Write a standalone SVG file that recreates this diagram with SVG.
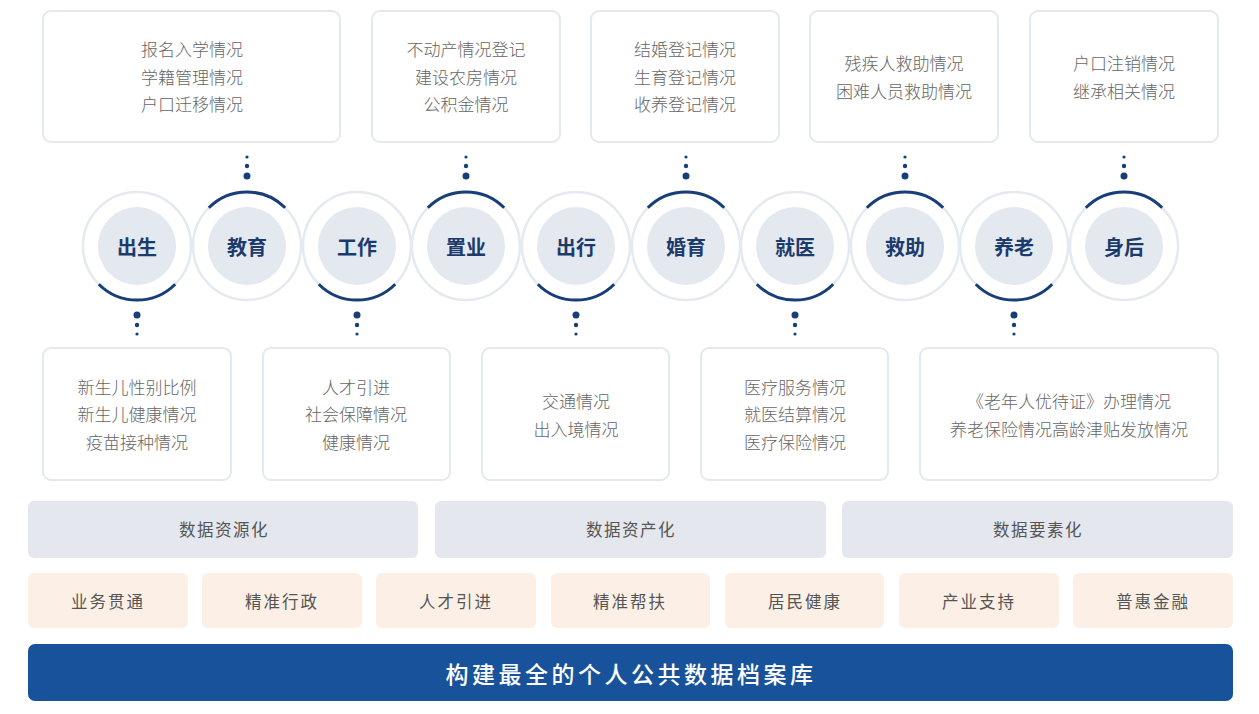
<svg xmlns="http://www.w3.org/2000/svg" width="1259" height="714" viewBox="0 0 1259 714">
<style>
text{font-family:"Noto Sans CJK SC","Noto Sans",sans-serif;dominant-baseline:central;text-anchor:middle}
.box{fill:#fff;stroke:#e4e8ef;stroke-width:2}
.bt{font-size:17px;fill:#666;font-weight:300}
.ring{fill:#fff;stroke:#e5e9f0;stroke-width:2.5}
.core{fill:#e4e9f0}
.arc{fill:none;stroke:#173e78;stroke-width:3}
.lbl{font-size:20px;font-weight:700;fill:#1c3b6c}
.dot{fill:#173e78}
.data{fill:#e4e8ee}
.dt{font-size:16.5px;fill:#555;letter-spacing:1.5px}
.app{fill:#fcf0e6}
.at{font-size:16.5px;fill:#555;letter-spacing:2px}
</style>
<rect width="1259" height="714" fill="#fff"/>

<g id="top-box-1"><rect class="box" x="43" y="11" width="297" height="131" rx="8"/>
<text class="bt" x="192" y="48">报名入学情况</text><text class="bt" x="192" y="76">学籍管理情况</text><text class="bt" x="192" y="103">户口迁移情况</text></g>
<g id="top-box-2"><rect class="box" x="372" y="11" width="188" height="131" rx="8"/>
<text class="bt" x="466" y="48">不动产情况登记</text><text class="bt" x="466" y="76">建设农房情况</text><text class="bt" x="466" y="103">公积金情况</text></g>
<g id="top-box-3"><rect class="box" x="591" y="11" width="188" height="131" rx="8"/>
<text class="bt" x="685" y="48">结婚登记情况</text><text class="bt" x="685" y="76">生育登记情况</text><text class="bt" x="685" y="103">收养登记情况</text></g>
<g id="top-box-4"><rect class="box" x="810" y="11" width="188" height="131" rx="8"/>
<text class="bt" x="904" y="62">残疾人救助情况</text><text class="bt" x="904" y="90">困难人员救助情况</text></g>
<g id="top-box-5"><rect class="box" x="1030" y="11" width="188" height="131" rx="8"/>
<text class="bt" x="1124" y="62">户口注销情况</text><text class="bt" x="1124" y="90">继承相关情况</text></g>

<g id="connectors">
<circle class="dot" cx="247" cy="157" r="1.6"/><circle class="dot" cx="247" cy="166" r="2.2"/><circle class="dot" cx="247" cy="176" r="3.5"/>
<circle class="dot" cx="466" cy="157" r="1.6"/><circle class="dot" cx="466" cy="166" r="2.2"/><circle class="dot" cx="466" cy="176" r="3.5"/>
<circle class="dot" cx="686" cy="157" r="1.6"/><circle class="dot" cx="686" cy="166" r="2.2"/><circle class="dot" cx="686" cy="176" r="3.5"/>
<circle class="dot" cx="905" cy="157" r="1.6"/><circle class="dot" cx="905" cy="166" r="2.2"/><circle class="dot" cx="905" cy="176" r="3.5"/>
<circle class="dot" cx="1124" cy="157" r="1.6"/><circle class="dot" cx="1124" cy="166" r="2.2"/><circle class="dot" cx="1124" cy="176" r="3.5"/>
<circle class="dot" cx="137" cy="315" r="3.5"/><circle class="dot" cx="137" cy="325" r="2.2"/><circle class="dot" cx="137" cy="334" r="1.6"/>
<circle class="dot" cx="357" cy="315" r="3.5"/><circle class="dot" cx="357" cy="325" r="2.2"/><circle class="dot" cx="357" cy="334" r="1.6"/>
<circle class="dot" cx="576" cy="315" r="3.5"/><circle class="dot" cx="576" cy="325" r="2.2"/><circle class="dot" cx="576" cy="334" r="1.6"/>
<circle class="dot" cx="795" cy="315" r="3.5"/><circle class="dot" cx="795" cy="325" r="2.2"/><circle class="dot" cx="795" cy="334" r="1.6"/>
<circle class="dot" cx="1014" cy="315" r="3.5"/><circle class="dot" cx="1014" cy="325" r="2.2"/><circle class="dot" cx="1014" cy="334" r="1.6"/>
</g>

<g id="node-chusheng"><circle class="ring" cx="137" cy="246" r="54"/><circle class="core" cx="137" cy="246" r="39"/>
<path class="arc" d="M98.8 284.2 A54 54 0 0 0 175.2 284.2"/><text class="lbl" x="137" y="246">出生</text></g>
<g id="node-jiaoyu"><circle class="ring" cx="247" cy="246" r="54"/><circle class="core" cx="247" cy="246" r="39"/>
<path class="arc" d="M208.8 207.8 A54 54 0 0 1 285.2 207.8"/><text class="lbl" x="247" y="246">教育</text></g>
<g id="node-gongzuo"><circle class="ring" cx="357" cy="246" r="54"/><circle class="core" cx="357" cy="246" r="39"/>
<path class="arc" d="M318.8 284.2 A54 54 0 0 0 395.2 284.2"/><text class="lbl" x="357" y="246">工作</text></g>
<g id="node-zhiye"><circle class="ring" cx="466" cy="246" r="54"/><circle class="core" cx="466" cy="246" r="39"/>
<path class="arc" d="M427.8 207.8 A54 54 0 0 1 504.2 207.8"/><text class="lbl" x="466" y="246">置业</text></g>
<g id="node-chuxing"><circle class="ring" cx="576" cy="246" r="54"/><circle class="core" cx="576" cy="246" r="39"/>
<path class="arc" d="M537.8 284.2 A54 54 0 0 0 614.2 284.2"/><text class="lbl" x="576" y="246">出行</text></g>
<g id="node-hunyu"><circle class="ring" cx="686" cy="246" r="54"/><circle class="core" cx="686" cy="246" r="39"/>
<path class="arc" d="M647.8 207.8 A54 54 0 0 1 724.2 207.8"/><text class="lbl" x="686" y="246">婚育</text></g>
<g id="node-jiuyi"><circle class="ring" cx="795" cy="246" r="54"/><circle class="core" cx="795" cy="246" r="39"/>
<path class="arc" d="M756.8 284.2 A54 54 0 0 0 833.2 284.2"/><text class="lbl" x="795" y="246">就医</text></g>
<g id="node-jiuzhu"><circle class="ring" cx="905" cy="246" r="54"/><circle class="core" cx="905" cy="246" r="39"/>
<path class="arc" d="M866.8 207.8 A54 54 0 0 1 943.2 207.8"/><text class="lbl" x="905" y="246">救助</text></g>
<g id="node-yanglao"><circle class="ring" cx="1014" cy="246" r="54"/><circle class="core" cx="1014" cy="246" r="39"/>
<path class="arc" d="M975.8 284.2 A54 54 0 0 0 1052.2 284.2"/><text class="lbl" x="1014" y="246">养老</text></g>
<g id="node-shenhou"><circle class="ring" cx="1124" cy="246" r="54"/><circle class="core" cx="1124" cy="246" r="39"/>
<path class="arc" d="M1085.8 207.8 A54 54 0 0 1 1162.2 207.8"/><text class="lbl" x="1124" y="246">身后</text></g>

<g id="bottom-box-1"><rect class="box" x="43" y="348" width="188" height="132" rx="8"/>
<text class="bt" x="137" y="386">新生儿性别比例</text><text class="bt" x="137" y="413">新生儿健康情况</text><text class="bt" x="137" y="441">疫苗接种情况</text></g>
<g id="bottom-box-2"><rect class="box" x="263" y="348" width="187" height="132" rx="8"/>
<text class="bt" x="356" y="386">人才引进</text><text class="bt" x="356" y="413">社会保障情况</text><text class="bt" x="356" y="441">健康情况</text></g>
<g id="bottom-box-3"><rect class="box" x="482" y="348" width="187" height="132" rx="8"/>
<text class="bt" x="576" y="400">交通情况</text><text class="bt" x="576" y="428">出入境情况</text></g>
<g id="bottom-box-4"><rect class="box" x="701" y="348" width="187" height="132" rx="8"/>
<text class="bt" x="795" y="386">医疗服务情况</text><text class="bt" x="795" y="413">就医结算情况</text><text class="bt" x="795" y="441">医疗保险情况</text></g>
<g id="bottom-box-5"><rect class="box" x="920" y="348" width="298" height="132" rx="8"/>
<text class="bt" x="1069" y="400">《老年人优待证》办理情况</text><text class="bt" x="1069" y="428">养老保险情况高龄津贴发放情况</text></g>

<g id="data-1"><rect class="data" x="28" y="501" width="390" height="57" rx="6"/><text class="dt" x="224" y="529">数据资源化</text></g>
<g id="data-2"><rect class="data" x="435" y="501" width="391" height="57" rx="6"/><text class="dt" x="631" y="529">数据资产化</text></g>
<g id="data-3"><rect class="data" x="842" y="501" width="391" height="57" rx="6"/><text class="dt" x="1038" y="529">数据要素化</text></g>

<g id="app-1"><rect class="app" x="28" y="573" width="160" height="55" rx="6"/><text class="at" x="108" y="601">业务贯通</text></g>
<g id="app-2"><rect class="app" x="202" y="573" width="160" height="55" rx="6"/><text class="at" x="282" y="601">精准行政</text></g>
<g id="app-3"><rect class="app" x="376" y="573" width="160" height="55" rx="6"/><text class="at" x="456" y="601">人才引进</text></g>
<g id="app-4"><rect class="app" x="551" y="573" width="159" height="55" rx="6"/><text class="at" x="630" y="601">精准帮扶</text></g>
<g id="app-5"><rect class="app" x="725" y="573" width="159" height="55" rx="6"/><text class="at" x="805" y="601">居民健康</text></g>
<g id="app-6"><rect class="app" x="899" y="573" width="160" height="55" rx="6"/><text class="at" x="979" y="601">产业支持</text></g>
<g id="app-7"><rect class="app" x="1073" y="573" width="160" height="55" rx="6"/><text class="at" x="1153" y="601">普惠金融</text></g>

<g id="banner"><rect x="28" y="644" width="1205" height="57" rx="7" fill="#18529a"/>
<text x="631" y="673" font-size="23" font-weight="500" fill="#fff" letter-spacing="3.5">构建最全的个人公共数据档案库</text></g>
</svg>
